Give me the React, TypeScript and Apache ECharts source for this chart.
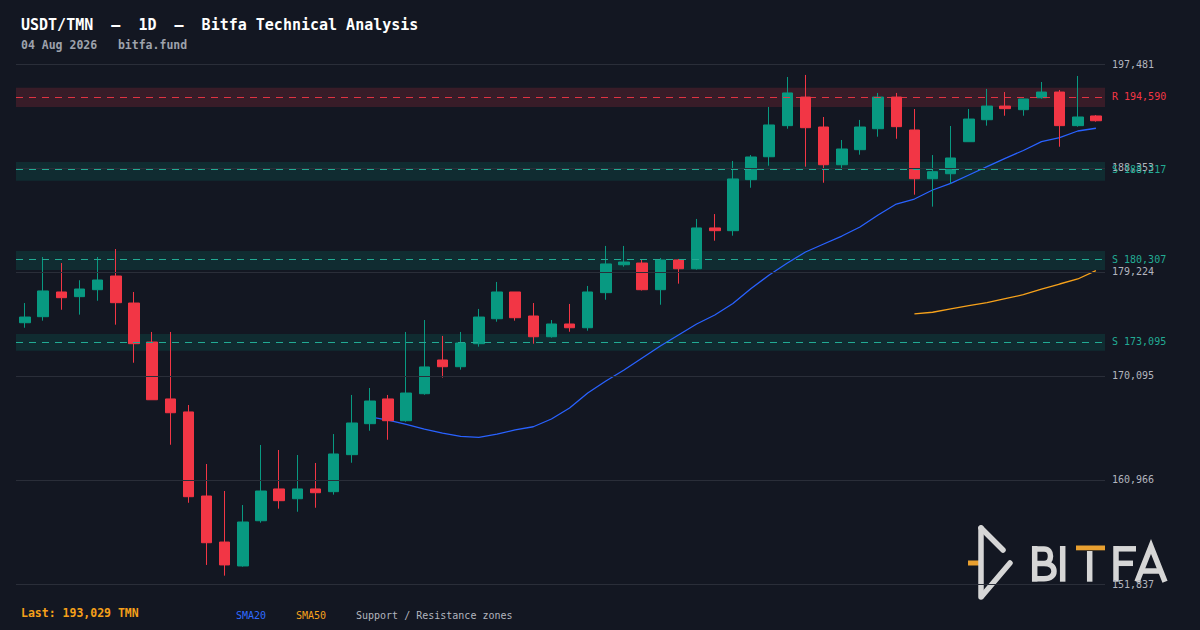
import React, { useEffect, useRef } from "react";
import * as echarts from "echarts";

// ---------- data ----------
const categories = [
  "06-06","06-07","06-08","06-09","06-10","06-11","06-12","06-13","06-14","06-15",
  "06-16","06-17","06-18","06-19","06-20","06-21","06-22","06-23","06-24","06-25",
  "06-26","06-27","06-28","06-29","06-30","07-01","07-02","07-03","07-04","07-05",
  "07-06","07-07","07-08","07-09","07-10","07-11","07-12","07-13","07-14","07-15",
  "07-16","07-17","07-18","07-19","07-20","07-21","07-22","07-23","07-24","07-25",
  "07-26","07-27","07-28","07-29","07-30","07-31","08-01","08-02","08-03","08-04",
];

const opens = [
  174770, 175300, 177470, 177060, 177670, 178870, 176500, 173080, 168080, 166940,
  159560, 155520, 153420, 157390, 160180, 159320, 160180, 159940, 163190, 165910,
  168080, 166170, 168540, 171500, 170910, 172930, 175120, 177470, 175360, 173540,
  174660, 174330, 177410, 179860, 180010, 177670, 180280, 179510, 183090, 182850,
  187330, 189340, 192070, 194580, 191950, 188640, 189960, 191800, 194580, 191690,
  187410, 187850, 190660, 192590, 193790, 193470, 194520, 195020, 192070, 192920,
];
const closes = [
  175270, 177560, 176970, 177730, 178520, 176530, 172930, 168010, 166870, 159500,
  155460, 153510, 157280, 160000, 159150, 160180, 159850, 163250, 165970, 167900,
  166170, 168600, 170890, 170910, 172990, 175270, 177470, 175210, 173540, 174660,
  174330, 177470, 179930, 180100, 177670, 180280, 179510, 183090, 182850, 187390,
  189320, 192130, 194940, 191890, 188640, 190020, 191950, 194580, 191980, 187410,
  188030, 189230, 192650, 193790, 193560, 194410, 195020, 192070, 192830, 192500,
];
const lows = [
  174330, 174950, 175910, 175480, 176700, 174600, 171260, 168000, 164060, 158970,
  153510, 152570, 153360, 157220, 158450, 158180, 158530, 159680, 162480, 165290,
  164500, 166080, 168450, 169950, 170650, 172670, 174860, 174950, 172930, 173460,
  173980, 174070, 176790, 179690, 177600, 176350, 178200, 179430, 181970, 182410,
  186620, 188550, 191800, 188470, 187060, 188200, 189520, 191100, 190920, 186010,
  184960, 186970, 190660, 192070, 192940, 192940, 194440, 190220, 191980, 192420,
];
const highs = [
  176500, 180540, 180010, 178500, 180540, 181240, 177470, 173960, 173960, 167550,
  162370, 160000, 158770, 164040, 163600, 163160, 162460, 165000, 168430, 169040,
  168430, 173960, 175010, 173610, 173960, 175980, 178350, 177470, 176500, 175010,
  176420, 178000, 181510, 181510, 180280, 180450, 180370, 183880, 184310, 188970,
  189490, 193710, 196340, 196520, 192830, 190810, 192570, 194940, 194940, 193530,
  189490, 192040, 193530, 195290, 195020, 194410, 195900, 195200, 196430, 193000,
];

const sma20 = [
  ...Array(19).fill(null),
  166500, 166230, 165840, 165440, 165090, 164800, 164710, 165000, 165360, 165640,
  166320, 167290, 168600, 169660, 170620, 171680, 172730, 173690, 174660, 175450,
  176460, 177780, 178960, 180010, 180980, 181680, 182380, 183170, 184230, 185190,
  185630, 186420, 187010, 187740, 188470, 189200, 189890, 190660, 191010, 191600,
  191840,
];
const sma50 = [
  ...Array(49).fill(null),
  175540, 175690, 175980, 176270, 176530, 176880, 177230, 177710, 178170, 178610,
  179340,
];

const tickValues = [151837, 160966, 170095, 179224, 188353, 197481];
const axisMin = 151837;
const axisMax = 197481;

const resistanceLevels = [194590];
const supportLevels = [188217, 180307, 173095];
const resistanceZones = [[193707, 195401]];
const supportZones = [
  [187238, 188879],
  [179399, 181067],
  [172315, 173781],
];

const lastPrice = 193029;

// ---------- styles ----------
const BG = "#131722";
const UP = "#089981";
const DOWN = "#f23645";
const TEAL = "#22ab94";
const GRID = "#2a2e39";
const AXIS_TXT = "#b2b5be";
const MONO = '"DejaVu Sans Mono", monospace';
const LOGO = "#d6d6d6";
const ORANGE = "#e9a030";

const fmt = (v: number) => v.toLocaleString("en-US");

let shapeRegistered = false;
function registerLogoShapes() {
  if (shapeRegistered) return;
  shapeRegistered = true;
  const bPath =
    "M1034.7 546 L1034.7 581.7 " +
    "M1034.7 549 L1044 549 C1048.5 549 1050.5 552 1050.5 556.2 C1050.5 560.5 1048 563.5 1044 563.5 L1034.7 563.5 " +
    "M1044 563.5 C1051 563.5 1054 567 1054 571.2 C1054 575.8 1050.5 578.7 1044 578.7 L1034.7 578.7";
  echarts.graphic.registerShape("bitfaB", echarts.graphic.extendPath(bPath, {}));
}

export default function App() {
  const ref = useRef<HTMLDivElement>(null);

  useEffect(() => {
    if (!ref.current) return;
    registerLogoShapes();
    const chart = echarts.init(ref.current, undefined, { renderer: "svg" });

    const candleData = categories.map((_, i) => [opens[i], closes[i], lows[i], highs[i]]);

    const gridLines = tickValues.map((v) => ({
      yAxis: v,
      lineStyle: { color: GRID, width: 1, type: "solid" as const },
      label: { formatter: fmt(v), color: AXIS_TXT },
    }));
    const rLines = resistanceLevels.map((v) => ({
      yAxis: v,
      lineStyle: { color: "rgba(242,54,69,0.9)", width: 1.2, type: [7, 6] },
      label: { formatter: "R " + fmt(v), color: DOWN },
    }));
    const sLines = supportLevels.map((v) => ({
      yAxis: v,
      lineStyle: { color: TEAL, width: 1.2, type: [7, 6] },
      label: { formatter: "S " + fmt(v), color: TEAL },
    }));

    const areas = [
      ...resistanceZones.map((z) => [
        { yAxis: z[0], itemStyle: { color: "rgba(242,54,69,0.17)" } },
        { yAxis: z[1] },
      ]),
      ...supportZones.map((z) => [
        { yAxis: z[0], itemStyle: { color: "rgba(8,153,129,0.16)" } },
        { yAxis: z[1] },
      ]),
    ];

    const stroke = { stroke: LOGO, lineWidth: 5.5, fill: "none" };

    const option: any = {
      animation: false,
      backgroundColor: BG,
      grid: { left: 16, right: 95, top: 64, bottom: 46 },
      xAxis: {
        type: "category",
        data: categories,
        boundaryGap: true,
        show: false,
      },
      yAxis: {
        type: "value",
        min: axisMin,
        max: axisMax,
        position: "right",
        axisLine: { show: false },
        axisTick: { show: false },
        axisLabel: { show: false },
        splitLine: { show: false },
      },
      series: [
        {
          name: "levels",
          type: "line",
          data: [],
          z: 1,
          silent: true,
          markArea: { silent: true, data: areas },
          markLine: {
            silent: true,
            symbol: ["none", "none"],
            label: {
              show: true,
              position: "end",
              distance: 7,
              fontFamily: MONO,
              fontSize: 10,
            },
            data: [...gridLines, ...rLines, ...sLines],
          },
        },
        {
          name: "SMA20",
          type: "line",
          data: sma20,
          z: 2,
          showSymbol: false,
          symbol: "none",
          connectNulls: false,
          lineStyle: { color: "#2962ff", width: 1.3 },
        },
        {
          name: "SMA50",
          type: "line",
          data: sma50,
          z: 2,
          showSymbol: false,
          symbol: "none",
          lineStyle: { color: "#f7a21b", width: 1.3 },
        },
        {
          name: "USDT/TMN",
          type: "candlestick",
          data: candleData,
          z: 3,
          barWidth: 11,
          itemStyle: {
            color: UP,
            color0: DOWN,
            borderColor: UP,
            borderColor0: DOWN,
            borderWidth: 1,
          },
        },
      ],
      graphic: [
        {
          type: "text",
          x: 21,
          y: 24.5,
          style: {
            text: "USDT/TMN  –  1D  –  Bitfa Technical Analysis",
            fill: "#ffffff",
            font: `bold 15px ${MONO}`,
            verticalAlign: "middle",
          },
        },
        {
          type: "text",
          x: 21,
          y: 45,
          style: {
            text: "04 Aug 2026   bitfa.fund",
            fill: "#9ea2ac",
            font: `bold 11.5px ${MONO}`,
            verticalAlign: "middle",
          },
        },
        {
          type: "text",
          x: 21,
          y: 613,
          style: {
            text: "Last: " + fmt(lastPrice) + " TMN",
            fill: "#f6a01a",
            font: `bold 11.5px ${MONO}`,
            verticalAlign: "middle",
          },
        },
        {
          type: "text",
          x: 236,
          y: 615,
          style: { text: "SMA20", fill: "#2f6bff", font: `10px ${MONO}`, verticalAlign: "middle" },
        },
        {
          type: "text",
          x: 296,
          y: 615,
          style: { text: "SMA50", fill: "#f7a21b", font: `10px ${MONO}`, verticalAlign: "middle" },
        },
        {
          type: "text",
          x: 356,
          y: 615,
          style: {
            text: "Support / Resistance zones",
            fill: AXIS_TXT,
            font: `10px ${MONO}`,
            verticalAlign: "middle",
          },
        },
        // ---- logo ----
        { type: "line", shape: { x1: 968, y1: 563, x2: 979, y2: 563 }, style: { stroke: ORANGE, lineWidth: 5 } },
        { type: "line", shape: { x1: 981, y1: 528, x2: 981, y2: 597 }, style: { ...stroke, lineCap: "round" } },
        { type: "line", shape: { x1: 981, y1: 528, x2: 1003, y2: 550 }, style: { ...stroke, lineCap: "round" } },
        { type: "line", shape: { x1: 1010, y1: 563, x2: 982, y2: 596 }, style: { ...stroke, lineCap: "round" } },
        { type: "bitfaB", x: 0, y: 0, style: { ...stroke } },
        { type: "line", shape: { x1: 1062.7, y1: 546, x2: 1062.7, y2: 581.7 }, style: stroke },
        { type: "rect", shape: { x: 1076, y: 545.5, width: 29, height: 4.8 }, style: { fill: ORANGE } },
        { type: "line", shape: { x1: 1089.7, y1: 551, x2: 1089.7, y2: 581.7 }, style: stroke },
        { type: "line", shape: { x1: 1116, y1: 546, x2: 1116, y2: 581.7 }, style: stroke },
        { type: "line", shape: { x1: 1116, y1: 548.8, x2: 1136, y2: 548.8 }, style: stroke },
        { type: "line", shape: { x1: 1116, y1: 563.3, x2: 1133, y2: 563.3 }, style: stroke },
        {
          type: "polyline",
          shape: { points: [[1137, 581.7], [1151, 546.5], [1165, 581.7]] },
          style: { ...stroke, lineJoin: "miter" },
        },
        { type: "line", shape: { x1: 1142, y1: 571, x2: 1160, y2: 571 }, style: stroke },
      ],
    };

    chart.setOption(option);
    return () => chart.dispose();
  }, []);

  return (
    <div
      ref={ref}
      style={{ position: "fixed", left: 0, top: 0, width: 1200, height: 630, background: BG }}
    />
  );
}
